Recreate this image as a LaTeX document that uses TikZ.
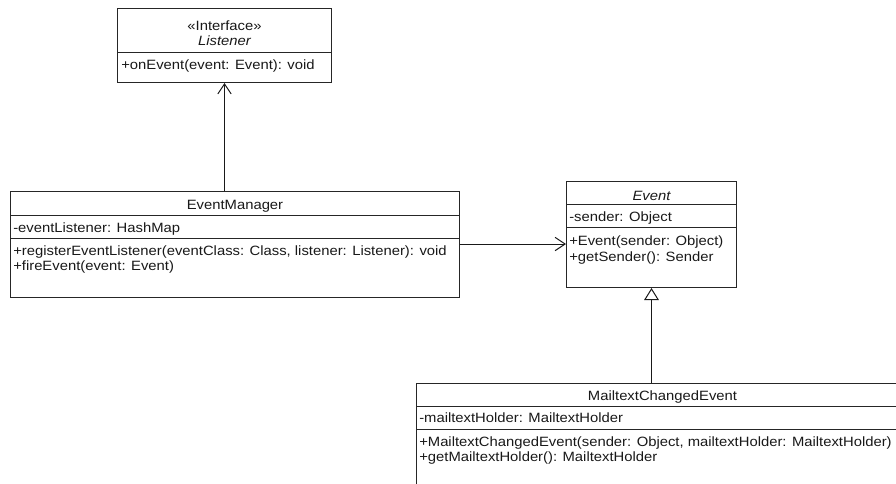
\documentclass[tikz,border=0pt]{standalone}
\usepackage{fontspec}
\setmainfont[FakeStretch=1.1]{Liberation Sans}
\usetikzlibrary{arrows.meta}
\newcommand\umlfont{\fontsize{10.1pt}{12pt}\selectfont}
\begin{document}
\begin{tikzpicture}[x=0.75pt,y=-0.75pt,
  box/.style={draw=black!85, line width=0.75pt, fill=white, rectangle, anchor=north west, inner sep=0pt},
  txt/.style={inner sep=0pt, anchor=base west, font=\umlfont, text=black!90},
  ttl/.style={inner sep=0pt, anchor=base, font=\umlfont, text=black!90},
  sep/.style={line width=0.75pt, draw=black!85},
  conn/.style={line width=0.75pt, draw=black!90},
  openarrow/.style={conn, -{Straight Barb[length=7.5pt,width=10pt]}},
  inherit/.style={conn, -{Triangle[open,length=9pt,width=11pt,fill=white]}}]
\useasboundingbox (0,0) rectangle (896,483);
\clip (0,0) rectangle (896,483);
\fill[white] (0,0) rectangle (896,483);

% Listener
\node[box, minimum width=214*0.75pt, minimum height=74*0.75pt] (lis) at (117,8) {};
\draw[sep] (lis.west |- 0,52) -- (lis.east |- 0,52);
\node[ttl] (lis-s) at (lis.north |- 0,30) {«Interface»};
\node[ttl] (lis-n) at (lis.north |- 0,45) {\itshape Listener};
\node[txt] (lis-o1) at (121,69) {+onEvent(event: Event): void};

% EventManager
\node[box, minimum width=449*0.75pt, minimum height=106*0.75pt] (em) at (10,191) {};
\draw[sep] (em.west |- 0,215) -- (em.east |- 0,215);
\draw[sep] (em.west |- 0,238) -- (em.east |- 0,238);
\node[ttl] (em-t) at (em.north |- 0,209) {EventManager};
\node[txt] (em-a1) at (13,232) {-eventListener: HashMap};
\node[txt] (em-o1) at (13,255) {+registerEventListener(eventClass: Class, listener: Listener): void};
\node[txt] (em-o2) at (13,270) {+fireEvent(event: Event)};

% Event
\node[box, minimum width=170*0.75pt, minimum height=106*0.75pt] (ev) at (566,181) {};
\draw[sep] (ev.west |- 0,204) -- (ev.east |- 0,204);
\draw[sep] (ev.west |- 0,227) -- (ev.east |- 0,227);
\node[ttl] (ev-t) at (ev.north |- 0,200) {\itshape Event};
\node[txt] (ev-a1) at (569,221) {-sender: Object};
\node[txt] (ev-o1) at (569,245) {+Event(sender: Object)};
\node[txt] (ev-o2) at (569,261) {+getSender(): Sender};

% MailtextChangedEvent
\node[box, minimum width=492*0.75pt, minimum height=130*0.75pt] (mce) at (416,383) {};
\draw[sep] (mce.west |- 0,406) -- (mce.east |- 0,406);
\draw[sep] (mce.west |- 0,429) -- (mce.east |- 0,429);
\node[ttl] (mce-t) at (mce.north |- 0,400) {MailtextChangedEvent};
\node[txt] (mce-a1) at (419,422) {-mailtextHolder: MailtextHolder};
\node[txt] (mce-o1) at (419,446) {+MailtextChangedEvent(sender: Object, mailtextHolder: MailtextHolder)};
\node[txt] (mce-o2) at (419,461) {+getMailtextHolder(): MailtextHolder};

% connectors
\coordinate (a1) at (0,244);
\draw[openarrow] (em.north -| lis.south) -- (lis.south);
\draw[openarrow] (em.east |- a1) -- (ev.west |- a1);
\draw[inherit] (mce.north -| ev.south) -- (ev.south);
\end{tikzpicture}
\end{document}
